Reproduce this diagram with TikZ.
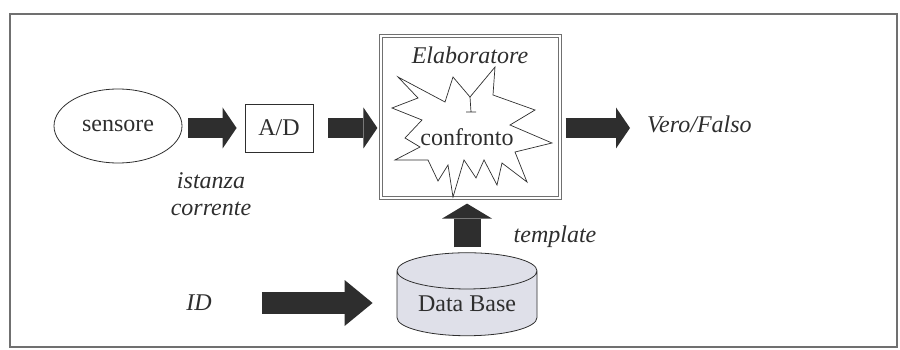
\documentclass[tikz,border=0pt]{standalone}
\usepackage{fontspec}
\setmainfont{Liberation Serif}
\usetikzlibrary{positioning, arrows.meta, shapes.geometric}
\definecolor{cInk}  {HTML}{2E2E2E}
\definecolor{cFrame}{HTML}{707070}
\definecolor{cDb}   {HTML}{DFE0E9}

\begin{document}
\begin{tikzpicture}[x=1pt, y=-1pt,
    font=\fontsize{24}{27}\selectfont,
    tag/.style={font=\fontsize{24}{27}\selectfont\itshape, text=cInk, inner sep=0pt},
    fat/.style={draw=cInk, line width=20pt,
      -{Triangle[length=14pt, width=41pt, line width=0pt]}},
  ]
  \useasboundingbox (0,0) rectangle (900,350);
  % outer frame
  \draw[cFrame, line width=1.5pt] (10,14) rectangle (897,347);

  % acquisition chain
  \node[ellipse, draw=cInk, line width=0.8pt, minimum width=128, minimum height=74,
        inner sep=0pt, text=cInk] (sensore) at (118,126) {sensore};
  \node[draw=cInk, line width=0.8pt, minimum width=68, minimum height=48,
        inner sep=0pt, text=cInk] (ad) at (279,128) {A/D};
  \node[tag, align=center] (istanza) at (211,194) {istanza\\corrente};

  % matcher box with starburst
  \node[draw=cFrame, double=white, double distance=1.5pt, line width=1.2pt,
        minimum width=179, minimum height=162] (elab) at (470.5,117) {};
  \node[tag] (elabT) at (470,55) {Elaboratore};
  \draw[cInk, line width=0.7pt, line join=miter]
    (398,77) -- (445,102) -- (453,77) -- (470,97) -- (495,67) -- (493,95)
    -- (535,110) -- (510,125) -- (552,143) -- (515,152) -- (527,182)
    -- (502,163) -- (497,185) -- (484,160) -- (476,178) -- (464,160)
    -- (453,197) -- (448,165) -- (438,181) -- (428,160) -- (395,160)
    -- (420,147) -- (405,138) -- (422,120) -- (392,108) -- (418,98) -- cycle;
  \draw[cInk, line width=0.7pt] (470,97) -- (471,112) (466,112) -- (476,112);
  \node[text=cInk, inner sep=0pt] (conf) at (467,137) {confronto};
  \node[tag, anchor=west] (vero) at (647,124) {Vero/Falso};

  % template store
  \node[tag] (id) at (199,303) {ID};
  \node[cylinder, shape border rotate=90, aspect=0.37, draw=cInk, line width=0.8pt,
        fill=cDb, minimum width=140, minimum height=83, inner sep=0pt,
        text=cInk] (db) at (467,303.5) {Data Base};
  \node[tag] (template) at (555,237) {template};

  % fat arrows
  \draw[fat, shorten <=6, shorten >=8] (sensore.east |- ad.west) -- (ad.west);
  \draw[fat, shorten <=15, shorten >=3] (ad.east) -- (ad.east -| elab.west);
  \draw[fat, shorten <=5, shorten >=17] (elab.east |- ad.east) -- (vero.west |- ad.east);
  \draw[fat, line width=22pt, -{Triangle[length=28pt, width=46pt, line width=0pt]},
        shorten <=50, shorten >=24] (id.east) -- (id.east -| db.west);
  \draw[fat, line width=27pt, -{Triangle[length=15pt, width=50pt, line width=0pt]},
        shorten <=5, shorten >=5] (db.north) -- (db.north |- elab.south);
\end{tikzpicture}
\end{document}
